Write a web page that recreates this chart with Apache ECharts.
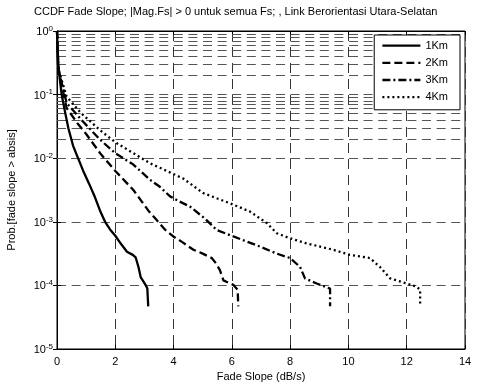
<!DOCTYPE html>
<html>
<head>
<meta charset="utf-8">
<script src="https://cdn.jsdelivr.net/npm/echarts@6/dist/echarts.min.js"></script>
<style>
  html, body { margin: 0; padding: 0; background: #fff; }
  #chart { width: 486px; height: 383px; }
</style>
</head>
<body>
<div id="chart"></div>
<script>
// data (x in dB/s, y = probability)
const names = ['1Km', '2Km', '3Km', '4Km']

const x1 = [0, 0.03, 0.16, 0.27, 0.39, 0.55, 0.68, 0.9, 1.1, 1.3, 1.5, 1.65, 1.82, 2.0, 2.2, 2.4, 2.6, 2.7, 2.8, 2.87, 3.05, 3.1, 3.13]
const y1 = [1, 0.316, 0.1, 0.055, 0.0295, 0.0158, 0.0112, 0.00631, 0.00398, 0.00245, 0.00141, 0.001, 0.000759, 0.000603, 0.000447, 0.000339, 0.000302, 0.000275, 0.000191, 0.000135, 0.0001, 0.0000891, 0.0000468]

const x2 = [0, 0.05, 0.33, 0.7, 1.0, 1.48, 2.0, 2.62, 3.13, 3.42, 3.7, 3.99, 4.3, 4.68, 5.0, 5.31, 5.45, 5.59, 5.71, 6.05, 6.2, 6.22]
const y2 = [1, 0.251, 0.0617, 0.0355, 0.024, 0.012, 0.00631, 0.00316, 0.00151, 0.00107, 0.000759, 0.000589, 0.000479, 0.000363, 0.000316, 0.000269, 0.000224, 0.000174, 0.00012, 0.000102, 0.0000851, 0.0000468]

const x3 = [0, 0.05, 0.33, 0.8, 1.48, 2.0, 2.62, 3.19, 3.53, 3.88, 4.2, 4.56, 5.08, 5.48, 6.05, 6.97, 7.54, 8.0, 8.34, 8.51, 8.91, 9.37, 9.37]
const y3 = [1, 0.251, 0.0741, 0.0417, 0.0195, 0.012, 0.00794, 0.00457, 0.00355, 0.00251, 0.00209, 0.00174, 0.00112, 0.000741, 0.000589, 0.000407, 0.000316, 0.000269, 0.000195, 0.000129, 0.000107, 0.0000891, 0.0000468]

const x4 = [0, 0.05, 0.33, 0.8, 1.48, 2.0, 2.62, 3.19, 3.53, 4.33, 5.02, 5.94, 6.62, 7.2, 7.54, 8.0, 8.57, 9.48, 10.05, 10.74, 11.08, 11.43, 12.0, 12.34, 12.46, 12.46]
const y4 = [1, 0.251, 0.0933, 0.0525, 0.0275, 0.0178, 0.012, 0.00832, 0.00708, 0.00479, 0.00282, 0.00195, 0.00145, 0.000955, 0.000661, 0.00055, 0.000457, 0.000363, 0.000302, 0.000269, 0.000195, 0.000129, 0.000107, 0.0000955, 0.0000851, 0.0000468]

const xTicks = [0, 2, 4, 6, 8, 10, 12, 14]
const yDecades = [1e-5, 1e-4, 1e-3, 1e-2, 1e-1, 1]

// minor grid lines of the log axis: 2..9 x each decade
const minorLines = []
yDecades.slice(0, -1).forEach(d => {
    for (let m = 2; m <= 9; m++) minorLines.push({ yAxis: m * d })
})

const pairs = (xs, ys) => xs.map((x, i) => [x, ys[i]])
const font = 'Liberation Sans, Arial, sans-serif'
const dashes = ['solid', [8, 4], [8, 3, 2, 3], [2, 3]]
const datas = [pairs(x1, y1), pairs(x2, y2), pairs(x3, y3), pairs(x4, y4)]

let mycharts = echarts.init(document.getElementById('chart'))

let series = names.map((n, i) => ({
    name: n,
    type: 'line',
    data: datas[i],
    symbol: 'none',
    showSymbol: false,
    clip: true,
    z: 5,
    color: '#000',
    itemStyle: { color: '#000' },
    lineStyle: { color: '#000', width: 2.3, type: dashes[i] }
}))
// grid lines drawn as markLines on the first series
series[0].markLine = {
    silent: true,
    symbol: 'none',
    label: { show: false },
    animation: false,
    z: 1,
    lineStyle: { color: '#555', width: 1, type: [9, 5.6] },
    data: minorLines
}

mycharts.setOption({
    animation: false,
    textStyle: { fontFamily: font },
    title: {
        text: 'CCDF Fade Slope; |Mag.Fs| > 0 untuk semua Fs; , Link Berorientasi Utara-Selatan',
        left: 34,
        top: 6,
        padding: 0,
        textStyle: { fontSize: 11, fontWeight: 'normal', color: '#000', fontFamily: font }
    },
    legend: {
        data: names,
        orient: 'vertical',
        right: 26,
        top: 35,
        itemWidth: 38,
        itemHeight: 14,
        itemGap: 6,
        padding: [5, 12, 7, 7],
        borderColor: '#000',
        borderWidth: 1,
        backgroundColor: '#fff',
        z: 10,
        itemStyle: { opacity: 0 },
        lineStyle: { color: '#000', width: 2.3 },
        textStyle: { fontSize: 11, color: '#000', fontFamily: font }
    },
    grid: {
        left: 57,
        right: 21,
        top: 31,
        bottom: 34,
        outerBoundsMode: 'none',
        containLabel: false,
        show: true,
        borderColor: '#000',
        borderWidth: 1,
        backgroundColor: '#fff'
    },
    xAxis: [{
        type: 'value',
        min: xTicks[0],
        max: xTicks[xTicks.length - 1],
        interval: 2,
        name: 'Fade Slope (dB/s)',
        nameLocation: 'middle',
        nameGap: 21,
        nameTextStyle: { fontSize: 11, color: '#000' },
        axisLine: { lineStyle: { color: '#000', width: 1 } },
        axisTick: { inside: true, length: 4, lineStyle: { color: '#000' } },
        axisLabel: { fontSize: 11, color: '#000', margin: 7 },
        splitLine: { show: true, lineStyle: { color: '#333', width: 1, type: [10, 6] } }
    }, {
        type: 'value',
        position: 'top',
        min: xTicks[0],
        max: xTicks[xTicks.length - 1],
        interval: 2,
        axisLine: { lineStyle: { color: '#000' } },
        axisTick: { inside: true, length: 4, lineStyle: { color: '#000' } },
        axisLabel: { show: false },
        splitLine: { show: false }
    }],
    yAxis: [{
        type: 'log',
        logBase: 10,
        min: yDecades[0],
        max: yDecades[yDecades.length - 1],
        name: 'Prob.[fade slope > absis]',
        nameLocation: 'middle',
        nameGap: 40,
        nameTextStyle: { fontSize: 11, color: '#000' },
        axisLine: { lineStyle: { color: '#000', width: 1 } },
        axisTick: { inside: true, length: 4, lineStyle: { color: '#000' } },
        axisLabel: {
            margin: 4,
            color: '#000',
            formatter: v => '{b|10}{e|' + Math.round(Math.log10(v)) + '}',
            rich: {
                b: { fontSize: 11, lineHeight: 13, verticalAlign: 'bottom', fontFamily: font },
                e: { fontSize: 8, lineHeight: 8, verticalAlign: 'top', fontFamily: font }
            }
        },
        splitLine: { show: true, lineStyle: { color: '#555', width: 1, type: [9, 5.6] } }
    }, {
        type: 'log',
        logBase: 10,
        position: 'right',
        min: yDecades[0],
        max: yDecades[yDecades.length - 1],
        axisLine: { lineStyle: { color: '#000' } },
        axisTick: { inside: true, length: 4, lineStyle: { color: '#000' } },
        axisLabel: { show: false },
        splitLine: { show: false }
    }],
    series: series
})
</script>
</body>
</html>
